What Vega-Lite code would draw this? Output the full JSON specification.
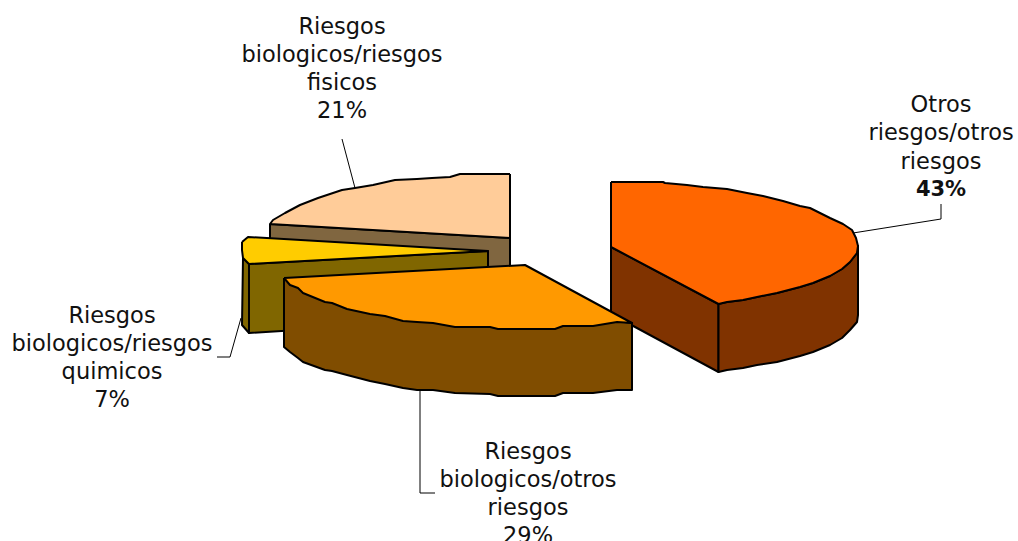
{"$schema":"https://vega.github.io/schema/vega-lite/v6.json","width":1018,"height":541,"autosize":{"type":"fit","contains":"padding"},"padding":0,"background":"white","config":{"view":{"stroke":null}},
"datasets":{
"shapes":[
{"part":"a1 fisicos lado","i":1,"x":270,"y":224},{"part":"a1 fisicos lado","i":2,"x":510,"y":238},{"part":"a1 fisicos lado","i":3,"x":510,"y":300},{"part":"a1 fisicos lado","i":4,"x":270,"y":290},{"part":"a1 fisicos lado","i":5,"x":270,"y":224},
{"part":"a2 fisicos","i":1,"x":510,"y":174},{"part":"a2 fisicos","i":2,"x":460,"y":174},{"part":"a2 fisicos","i":3,"x":450,"y":177},{"part":"a2 fisicos","i":4,"x":432,"y":178},{"part":"a2 fisicos","i":5,"x":417,"y":179},{"part":"a2 fisicos","i":6,"x":395,"y":180},{"part":"a2 fisicos","i":7,"x":373,"y":185},{"part":"a2 fisicos","i":8,"x":355,"y":188},{"part":"a2 fisicos","i":9,"x":342,"y":190},{"part":"a2 fisicos","i":10,"x":318,"y":198},{"part":"a2 fisicos","i":11,"x":300,"y":205},{"part":"a2 fisicos","i":12,"x":285,"y":213},{"part":"a2 fisicos","i":13,"x":273,"y":220},{"part":"a2 fisicos","i":14,"x":270,"y":224},{"part":"a2 fisicos","i":15,"x":510,"y":238},{"part":"a2 fisicos","i":16,"x":510,"y":174},
{"part":"b1 quimicos izq","i":1,"x":243,"y":258},{"part":"b1 quimicos izq","i":2,"x":249,"y":264},{"part":"b1 quimicos izq","i":3,"x":249,"y":333},{"part":"b1 quimicos izq","i":4,"x":242,"y":325},{"part":"b1 quimicos izq","i":5,"x":243,"y":258},
{"part":"b2 quimicos lado","i":1,"x":249,"y":264},{"part":"b2 quimicos lado","i":2,"x":488,"y":251},{"part":"b2 quimicos lado","i":3,"x":488,"y":318},{"part":"b2 quimicos lado","i":4,"x":249,"y":333},{"part":"b2 quimicos lado","i":5,"x":249,"y":264},
{"part":"b3 quimicos","i":1,"x":242,"y":242},{"part":"b3 quimicos","i":2,"x":248,"y":237},{"part":"b3 quimicos","i":3,"x":488,"y":251},{"part":"b3 quimicos","i":4,"x":249,"y":264},{"part":"b3 quimicos","i":5,"x":243,"y":258},{"part":"b3 quimicos","i":6,"x":242,"y":250},{"part":"b3 quimicos","i":7,"x":242,"y":242},
{"part":"c1 otros lado","i":1,"x":611,"y":247},{"part":"c1 otros lado","i":2,"x":718.5,"y":304},{"part":"c1 otros lado","i":3,"x":718.5,"y":372},{"part":"c1 otros lado","i":4,"x":611,"y":314},{"part":"c1 otros lado","i":5,"x":611,"y":247},
{"part":"c2 otros arco","i":1,"x":718.5,"y":304},{"part":"c2 otros arco","i":2,"x":727,"y":302},{"part":"c2 otros arco","i":3,"x":743,"y":300},{"part":"c2 otros arco","i":4,"x":757,"y":297},{"part":"c2 otros arco","i":5,"x":777,"y":293},{"part":"c2 otros arco","i":6,"x":800,"y":287},{"part":"c2 otros arco","i":7,"x":813,"y":283},{"part":"c2 otros arco","i":8,"x":830,"y":276},{"part":"c2 otros arco","i":9,"x":842,"y":269},{"part":"c2 otros arco","i":10,"x":850,"y":262},{"part":"c2 otros arco","i":11,"x":857,"y":253},{"part":"c2 otros arco","i":12,"x":858,"y":246},{"part":"c2 otros arco","i":13,"x":858,"y":315},{"part":"c2 otros arco","i":14,"x":857,"y":322},{"part":"c2 otros arco","i":15,"x":850,"y":330},{"part":"c2 otros arco","i":16,"x":842,"y":338},{"part":"c2 otros arco","i":17,"x":830,"y":345},{"part":"c2 otros arco","i":18,"x":813,"y":352},{"part":"c2 otros arco","i":19,"x":800,"y":356},{"part":"c2 otros arco","i":20,"x":777,"y":362},{"part":"c2 otros arco","i":21,"x":757,"y":365},{"part":"c2 otros arco","i":22,"x":743,"y":368},{"part":"c2 otros arco","i":23,"x":727,"y":370},{"part":"c2 otros arco","i":24,"x":718.5,"y":372},{"part":"c2 otros arco","i":25,"x":718.5,"y":304},
{"part":"c3 otros","i":1,"x":611,"y":182},{"part":"c3 otros","i":2,"x":663,"y":182},{"part":"c3 otros","i":3,"x":665,"y":183},{"part":"c3 otros","i":4,"x":687,"y":185},{"part":"c3 otros","i":5,"x":703,"y":187},{"part":"c3 otros","i":6,"x":727,"y":189},{"part":"c3 otros","i":7,"x":747,"y":193},{"part":"c3 otros","i":8,"x":763,"y":196},{"part":"c3 otros","i":9,"x":783,"y":201},{"part":"c3 otros","i":10,"x":800,"y":206},{"part":"c3 otros","i":11,"x":810,"y":208},{"part":"c3 otros","i":12,"x":830,"y":218},{"part":"c3 otros","i":13,"x":843,"y":224},{"part":"c3 otros","i":14,"x":852,"y":230},{"part":"c3 otros","i":15,"x":856,"y":238},{"part":"c3 otros","i":16,"x":858,"y":246},{"part":"c3 otros","i":17,"x":857,"y":253},{"part":"c3 otros","i":18,"x":850,"y":262},{"part":"c3 otros","i":19,"x":842,"y":269},{"part":"c3 otros","i":20,"x":830,"y":276},{"part":"c3 otros","i":21,"x":813,"y":283},{"part":"c3 otros","i":22,"x":800,"y":287},{"part":"c3 otros","i":23,"x":777,"y":293},{"part":"c3 otros","i":24,"x":757,"y":297},{"part":"c3 otros","i":25,"x":743,"y":300},{"part":"c3 otros","i":26,"x":727,"y":302},{"part":"c3 otros","i":27,"x":718.5,"y":304},{"part":"c3 otros","i":28,"x":611,"y":247},{"part":"c3 otros","i":29,"x":611,"y":182},
{"part":"d1 bio otros lado","i":1,"x":284,"y":278},{"part":"d1 bio otros lado","i":2,"x":632,"y":323},{"part":"d1 bio otros lado","i":3,"x":632,"y":390},{"part":"d1 bio otros lado","i":4,"x":617,"y":390},{"part":"d1 bio otros lado","i":5,"x":593,"y":393},{"part":"d1 bio otros lado","i":6,"x":563,"y":393},{"part":"d1 bio otros lado","i":7,"x":555,"y":396},{"part":"d1 bio otros lado","i":8,"x":498,"y":396},{"part":"d1 bio otros lado","i":9,"x":490,"y":394},{"part":"d1 bio otros lado","i":10,"x":455,"y":393},{"part":"d1 bio otros lado","i":11,"x":433,"y":390},{"part":"d1 bio otros lado","i":12,"x":417,"y":390},{"part":"d1 bio otros lado","i":13,"x":403,"y":388},{"part":"d1 bio otros lado","i":14,"x":385,"y":384},{"part":"d1 bio otros lado","i":15,"x":370,"y":381},{"part":"d1 bio otros lado","i":16,"x":347,"y":375},{"part":"d1 bio otros lado","i":17,"x":332,"y":371},{"part":"d1 bio otros lado","i":18,"x":325,"y":370},{"part":"d1 bio otros lado","i":19,"x":303,"y":362},{"part":"d1 bio otros lado","i":20,"x":298,"y":358},{"part":"d1 bio otros lado","i":21,"x":290,"y":352},{"part":"d1 bio otros lado","i":22,"x":284,"y":347},{"part":"d1 bio otros lado","i":23,"x":284,"y":278},
{"part":"d2 bio otros","i":1,"x":284,"y":278},{"part":"d2 bio otros","i":2,"x":525,"y":265},{"part":"d2 bio otros","i":3,"x":632,"y":323},{"part":"d2 bio otros","i":4,"x":617,"y":322},{"part":"d2 bio otros","i":5,"x":593,"y":326},{"part":"d2 bio otros","i":6,"x":563,"y":326},{"part":"d2 bio otros","i":7,"x":555,"y":329},{"part":"d2 bio otros","i":8,"x":498,"y":329},{"part":"d2 bio otros","i":9,"x":490,"y":327},{"part":"d2 bio otros","i":10,"x":455,"y":327},{"part":"d2 bio otros","i":11,"x":433,"y":323},{"part":"d2 bio otros","i":12,"x":417,"y":322},{"part":"d2 bio otros","i":13,"x":403,"y":321},{"part":"d2 bio otros","i":14,"x":385,"y":316},{"part":"d2 bio otros","i":15,"x":370,"y":314},{"part":"d2 bio otros","i":16,"x":347,"y":309},{"part":"d2 bio otros","i":17,"x":332,"y":303},{"part":"d2 bio otros","i":18,"x":325,"y":302},{"part":"d2 bio otros","i":19,"x":303,"y":293},{"part":"d2 bio otros","i":20,"x":298,"y":288},{"part":"d2 bio otros","i":21,"x":290,"y":285},{"part":"d2 bio otros","i":22,"x":284,"y":278}
],
"leaders":[
{"l":"fisicos","i":1,"x":342,"y":139},{"l":"fisicos","i":2,"x":355,"y":188},
{"l":"otros","i":1,"x":941,"y":204},{"l":"otros","i":2,"x":941,"y":219},{"l":"otros","i":3,"x":853,"y":233},
{"l":"quimicos","i":1,"x":217,"y":357},{"l":"quimicos","i":2,"x":230,"y":357},{"l":"quimicos","i":3,"x":241,"y":318},
{"l":"bio","i":1,"x":420,"y":390},{"l":"bio","i":2,"x":420,"y":493},{"l":"bio","i":3,"x":435,"y":493}
],
"labels":[
{"t":"Riesgos","x":342,"y":27,"b":0},{"t":"biologicos/riesgos","x":342,"y":55,"b":0},{"t":"fisicos","x":342,"y":83,"b":0},{"t":"21%","x":342,"y":111,"b":0},
{"t":"Otros","x":941,"y":105,"b":0},{"t":"riesgos/otros","x":941,"y":133,"b":0},{"t":"riesgos","x":941,"y":162,"b":0},{"t":"43%","x":941,"y":190,"b":1},
{"t":"Riesgos","x":112,"y":316,"b":0},{"t":"biologicos/riesgos","x":112,"y":344,"b":0},{"t":"quimicos","x":112,"y":372,"b":0},{"t":"7%","x":112,"y":400,"b":0},
{"t":"Riesgos","x":528,"y":452,"b":0},{"t":"biologicos/otros","x":528,"y":480,"b":0},{"t":"riesgos","x":528,"y":508,"b":0},{"t":"29%","x":528,"y":536,"b":0}
]},
"layer":[
{"data":{"name":"leaders"},"mark":{"type":"line","stroke":"#000","strokeWidth":1},"encoding":{"x":{"field":"x","type":"quantitative","scale":{"domain":[0,1018]},"axis":null},"y":{"field":"y","type":"quantitative","scale":{"domain":[541,0]},"axis":null},"detail":{"field":"l"},"order":{"field":"i"}}},
{"data":{"name":"shapes"},"mark":{"type":"line","stroke":"#000","strokeWidth":2,"strokeJoin":"round"},"encoding":{"x":{"field":"x","type":"quantitative","scale":{"domain":[0,1018]},"axis":null},"y":{"field":"y","type":"quantitative","scale":{"domain":[541,0]},"axis":null},"detail":{"field":"part"},"order":{"field":"i"},"fill":{"field":"part","type":"nominal","legend":null,"scale":{"domain":["a1 fisicos lado","a2 fisicos","b1 quimicos izq","b2 quimicos lado","b3 quimicos","c1 otros lado","c2 otros arco","c3 otros","d1 bio otros lado","d2 bio otros"],"range":["#806640","#FFCC99","#806600","#806600","#FFCC00","#803300","#803300","#FF6600","#804D00","#FF9900"]}}}},
{"data":{"name":"labels"},"transform":[{"filter":"datum.b==0"}],"mark":{"type":"text","clip":true,"font":"DejaVu Sans","fontSize":22.5,"baseline":"middle","align":"center","fill":"#111"},"encoding":{"x":{"field":"x","type":"quantitative","scale":{"domain":[0,1018]},"axis":null},"y":{"field":"y","type":"quantitative","scale":{"domain":[541,0]},"axis":null},"text":{"field":"t"}}},
{"data":{"name":"labels"},"transform":[{"filter":"datum.b==1"}],"mark":{"type":"text","clip":true,"font":"DejaVu Sans","fontSize":21,"fontWeight":"bold","baseline":"middle","align":"center","fill":"#111"},"encoding":{"x":{"field":"x","type":"quantitative","scale":{"domain":[0,1018]},"axis":null},"y":{"field":"y","type":"quantitative","scale":{"domain":[541,0]},"axis":null},"text":{"field":"t"}}}
]}
